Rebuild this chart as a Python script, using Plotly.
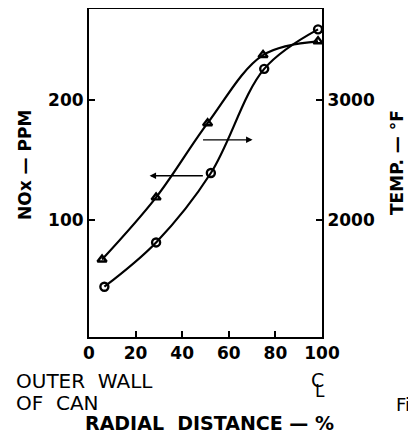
import plotly.graph_objects as go

# Radial distance (%) of measurement stations
radial_nox = [6.6, 28.8, 52.3, 75.2, 98.3]
nox_ppm = [44, 81, 139, 226, 259]

radial_temp = [5.6, 28.8, 50.9, 74.7, 98.3]
temp_f = [1667, 2186, 2806, 3375, 3490]

x_ticks = [0, 20, 40, 60, 80, 100]
nox_ticks = [100, 200]
temp_ticks = [2000, 3000]

FONT = "DejaVu Sans"

fig = go.Figure()
fig.add_trace(go.Scatter(
    x=radial_nox, y=nox_ppm, mode="lines+markers", line_shape="spline",
    line=dict(color="black", width=2.2),
    marker=dict(symbol="circle-open", size=8, color="black", line=dict(width=2.4)),
    showlegend=False))
fig.add_trace(go.Scatter(
    x=radial_temp, y=temp_f, yaxis="y2", mode="lines+markers", line_shape="spline",
    line=dict(color="black", width=2.2),
    marker=dict(symbol="triangle-up-open", size=8, color="black", line=dict(width=2.4)),
    showlegend=False))

tickfont = dict(size=17, family=FONT, weight="bold")
# page body has an 8px margin, so the figure is 8px smaller than the window
fig.update_layout(
    width=408, height=433,
    margin=dict(l=81, r=94, t=1, b=104),
    paper_bgcolor="white", plot_bgcolor="white",
    font=dict(family=FONT, color="black"),
    xaxis=dict(range=[0, 100], tickvals=x_ticks, ticks="inside", ticklen=6,
               tickwidth=1.5, tickcolor="black", showgrid=False, zeroline=False,
               showline=True, linecolor="black", linewidth=2, mirror=True,
               automargin=False, tickfont=tickfont),
    yaxis=dict(range=[2, 276], tickvals=nox_ticks, ticks="inside", ticklen=6,
               tickwidth=1.5, tickcolor="black", showgrid=False, zeroline=False,
               showline=True, linecolor="black", linewidth=2,
               automargin=False, tickfont=tickfont),
    yaxis2=dict(range=[1020, 3760], tickvals=temp_ticks, overlaying="y", side="right",
                ticks="inside", ticklen=6, tickwidth=1.5, tickcolor="black",
                showgrid=False, zeroline=False, showline=True, linecolor="black",
                linewidth=2, automargin=False, tickfont=tickfont),
)

W, H = 233.0, 328.0  # plot area size in px

# axis titles (as rotated annotations, placed slightly above the axis centre)
fig.add_annotation(text="NOx — PPM", xref="paper", yref="paper",
                   x=(17 - 81) / W, y=1 - 156 / H, textangle=-90,
                   xanchor="center", yanchor="middle", showarrow=False,
                   font=dict(size=17, family=FONT, weight="bold"))
fig.add_annotation(text="TEMP. — °F", xref="paper", yref="paper",
                   x=(389 - 81) / W, y=1 - 154 / H, textangle=-90,
                   xanchor="center", yanchor="middle", showarrow=False,
                   font=dict(size=17, family=FONT, weight="bold"))

# reference arrows
fig.add_annotation(x=26, y=136.7, ax=49.5, ay=136.7, xref="x", yref="y",
                   axref="x", ayref="y", text="", showarrow=True,
                   arrowhead=2, arrowsize=1, arrowwidth=1.3, arrowcolor="black")
fig.add_annotation(x=70.2, y=166.7, ax=48.3, ay=166.7, xref="x", yref="y",
                   axref="x", ayref="y", text="", showarrow=True,
                   arrowhead=2, arrowsize=1, arrowwidth=1.3, arrowcolor="black")

# bottom labels
fig.add_annotation(text="OUTER  WALL", xref="paper", yref="paper",
                   x=-75 / W, y=1 - 372 / H, xanchor="left", yanchor="middle",
                   showarrow=False, font=dict(size=20, family=FONT))
fig.add_annotation(text="OF  CAN", xref="paper", yref="paper",
                   x=-75 / W, y=1 - 394 / H, xanchor="left", yanchor="middle",
                   showarrow=False, font=dict(size=20, family=FONT))
fig.add_annotation(text="C", xref="x", yref="paper", x=98.0, y=1 - 371 / H,
                   xanchor="center", yanchor="middle", showarrow=False,
                   font=dict(size=19, family=FONT))
fig.add_annotation(text="L", xref="x", yref="paper", x=99.3, y=1 - 382 / H,
                   xanchor="center", yanchor="middle", showarrow=False,
                   font=dict(size=17, family=FONT))
fig.add_annotation(text="RADIAL  DISTANCE — %", xref="paper", yref="paper",
                   x=(209 - 89) / W, y=1 - 414 / H, xanchor="center", yanchor="middle",
                   showarrow=False, font=dict(size=19, family=FONT, weight="bold"))
fig.add_annotation(text="Fi", xref="paper", yref="paper",
                   x=(386 - 81) / W, y=1 - 395 / H, xanchor="left", yanchor="middle",
                   showarrow=False, font=dict(size=18, family=FONT))

fig.write_html("out.html")
